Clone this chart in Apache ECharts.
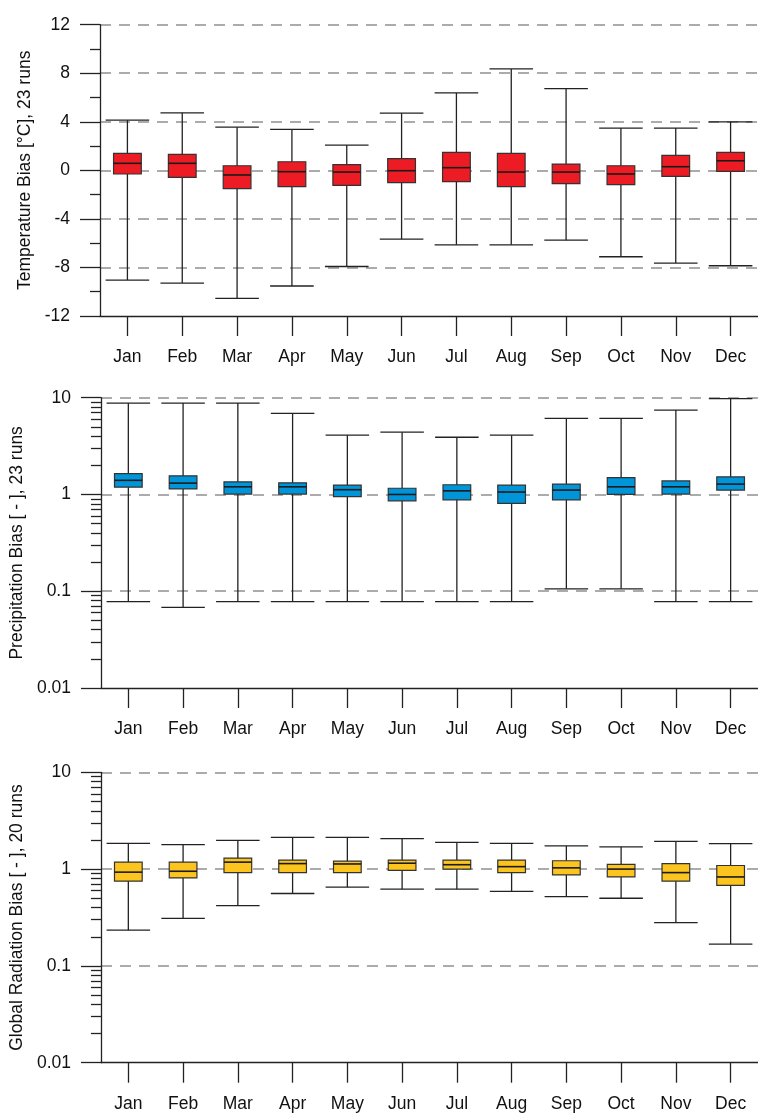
<!DOCTYPE html>
<html>
<head>
<meta charset="utf-8">
<script src="https://cdn.jsdelivr.net/npm/echarts@6/dist/echarts.min.js"></script>
<style>
html,body{margin:0;padding:0;background:#fff;}
#chart{width:758px;height:1113px;}
</style>
</head>
<body>
<div id="chart"></div>
<script>
const months = ['Jan','Feb','Mar','Apr','May','Jun','Jul','Aug','Sep','Oct','Nov','Dec'];

// Temperature bias [°C]
const tempHigh = [4.14,4.74,3.56,3.37,2.08,4.71,6.38,8.36,6.74,3.48,3.48,4.0];
const tempQ3   = [1.40,1.32,0.38,0.71,0.47,0.96,1.48,1.40,0.52,0.38,1.23,1.48];
const tempMed  = [0.58,0.58,-0.38,-0.11,-0.14,-0.03,0.22,-0.14,-0.14,-0.30,0.30,0.79];
const tempQ1   = [-0.30,-0.58,-1.51,-1.34,-1.23,-1.01,-0.93,-1.34,-1.10,-1.18,-0.49,-0.08];
const tempLow  = [-9.04,-9.29,-10.55,-9.53,-7.92,-5.67,-6.14,-6.14,-5.75,-7.12,-7.64,-7.86];

// Precipitation bias [-]
const precHigh = [8.8,8.8,8.8,6.9,4.1,4.4,3.9,4.1,6.1,6.1,7.45,9.8];
const precQ3   = [1.64,1.56,1.35,1.32,1.25,1.16,1.26,1.25,1.28,1.49,1.38,1.52];
const precMed  = [1.40,1.31,1.20,1.20,1.12,1.00,1.09,1.06,1.11,1.20,1.20,1.28];
const precQ1   = [1.19,1.14,1.01,1.01,0.95,0.86,0.88,0.81,0.88,1.00,1.01,1.11];
const precLow  = [0.078,0.068,0.078,0.078,0.078,0.078,0.078,0.078,0.106,0.106,0.078,0.078];

// Global radiation bias [-]
const radHigh = [1.84,1.79,1.98,2.13,2.13,2.06,1.89,1.84,1.74,1.70,1.93,1.83];
const radQ3   = [1.18,1.18,1.30,1.24,1.21,1.24,1.24,1.24,1.22,1.12,1.14,1.09];
const radMed  = [0.93,0.95,1.18,1.14,1.13,1.15,1.11,1.06,1.03,1.00,0.92,0.83];
const radQ1   = [0.75,0.81,0.92,0.92,0.92,0.97,1.00,0.92,0.87,0.83,0.75,0.68];
const radLow  = [0.234,0.31,0.42,0.56,0.65,0.62,0.62,0.59,0.52,0.50,0.28,0.168];

// Axis tick labels / tick values
const tempTicks = [-12,-8,-4,0,4,8,12];
const logTicks = [0.01,0.1,1,10];
const logMinorTicks = [0.02,0.03,0.04,0.05,0.06,0.07,0.08,0.09,0.2,0.3,0.4,0.5,0.6,0.7,0.8,0.9,2,3,4,5,6,7,8,9];

const FONT = 'Liberation Sans, Arial, sans-serif';
const FS = 17.5;
const LINE = '#222';
const GRIDC = '#ababab';

function buildRows(low, q1, med, q3, high) {
  return months.map((m, i) => [i, low[i], q1[i], med[i], q3[i], high[i]]);
}

function renderBox(color) {
  return function (params, api) {
    const i = api.value(0);
    const band = api.size([1, 0])[0];
    const bw = band * 0.506, cw = band * 0.795;
    const pLow = api.coord([i, api.value(1)]);
    const pQ1 = api.coord([i, api.value(2)]);
    const pMed = api.coord([i, api.value(3)]);
    const pQ3 = api.coord([i, api.value(4)]);
    const pHigh = api.coord([i, api.value(5)]);
    const x = pMed[0];
    const ls = {stroke: LINE, lineWidth: 1.3};
    return {
      type: 'group',
      children: [
        {type: 'line', shape: {x1: x, y1: pLow[1], x2: x, y2: pHigh[1]}, style: ls},
        {type: 'line', shape: {x1: x - cw/2, y1: pHigh[1], x2: x + cw/2, y2: pHigh[1]}, style: ls},
        {type: 'line', shape: {x1: x - cw/2, y1: pLow[1], x2: x + cw/2, y2: pLow[1]}, style: ls},
        {type: 'rect', shape: {x: x - bw/2, y: pQ3[1], width: bw, height: pQ1[1] - pQ3[1]},
          style: {fill: color, stroke: '#333', lineWidth: 1.2}},
        {type: 'line', shape: {x1: x - bw/2, y1: pMed[1], x2: x + bw/2, y2: pMed[1]},
          style: {stroke: '#1a1a1a', lineWidth: 1.6}}
      ]
    };
  };
}

const grids = [
  {left: 100, width: 664, top: 24.7, height: 291.3},
  {left: 100, width: 664, top: 397.7, height: 290.3},
  {left: 100, width: 664, top: 772.3, height: 290.4}
];

const xAxes = grids.map((g, k) => ({
  type: 'category', gridIndex: k, data: months, boundaryGap: true, position: 'bottom',
  axisLine: {show: true, onZero: false, lineStyle: {color: LINE, width: 1.3}},
  axisTick: {show: true, alignWithLabel: true, length: 20, lineStyle: {color: LINE, width: 1.3}},
  axisLabel: {color: '#111', fontSize: FS, fontFamily: FONT, margin: 32},
  splitLine: {show: false},
  z: 10
}));

const splitStyle = {show: true, showMinLine: false, showMaxLine: true,
  lineStyle: {color: GRIDC, width: 2, type: [11, 8]}};
const nameStyle = {color: '#111', fontSize: FS, fontFamily: FONT};
const yLabel = {color: '#111', fontSize: FS, fontFamily: FONT, margin: 30};

const yAxes = [
  {
    type: 'value', gridIndex: 0, position: 'left', min: -12, max: 12, interval: 4,
    name: 'Temperature Bias [°C], 23 runs', nameLocation: 'middle', nameRotate: 90, nameGap: 60,
    nameTextStyle: nameStyle,
    axisLine: {show: true, onZero: false, lineStyle: {color: LINE, width: 1.3}},
    axisTick: {show: true, length: 20, lineStyle: {color: LINE, width: 1.3}},
    minorTick: {show: true, splitNumber: 2, length: 10, lineStyle: {color: LINE, width: 1.3}},
    axisLabel: Object.assign({customValues: tempTicks}, yLabel),
    splitLine: splitStyle
  },
  {
    type: 'log', logBase: 10, gridIndex: 1, position: 'left', min: 0.01, max: 10,
    name: 'Precipitation Bias [ - ], 23 runs', nameLocation: 'middle', nameRotate: 90, nameGap: 68,
    nameTextStyle: nameStyle,
    axisLine: {show: true, onZero: false, lineStyle: {color: LINE, width: 1.3}},
    axisTick: {show: true, length: 20, lineStyle: {color: LINE, width: 1.3}},
    axisLabel: Object.assign({formatter: v => String(+v.toPrecision(3))}, yLabel),
    splitLine: splitStyle
  },
  {
    type: 'log', logBase: 10, gridIndex: 2, position: 'left', min: 0.01, max: 10,
    name: 'Global Radiation Bias [ - ], 20 runs', nameLocation: 'middle', nameRotate: 90, nameGap: 68,
    nameTextStyle: nameStyle,
    axisLine: {show: true, onZero: false, lineStyle: {color: LINE, width: 1.3}},
    axisTick: {show: true, length: 20, lineStyle: {color: LINE, width: 1.3}},
    axisLabel: Object.assign({formatter: v => String(+v.toPrecision(3))}, yLabel),
    splitLine: splitStyle
  },
  // minor tick axes for log panels
  {
    type: 'log', logBase: 10, gridIndex: 1, position: 'left', min: 0.01, max: 10,
    axisLine: {show: false, onZero: false},
    axisTick: {show: true, length: 10, customValues: logMinorTicks, lineStyle: {color: LINE, width: 1.3}},
    axisLabel: {show: false}, splitLine: {show: false}
  },
  {
    type: 'log', logBase: 10, gridIndex: 2, position: 'left', min: 0.01, max: 10,
    axisLine: {show: false, onZero: false},
    axisTick: {show: true, length: 10, customValues: logMinorTicks, lineStyle: {color: LINE, width: 1.3}},
    axisLabel: {show: false}, splitLine: {show: false}
  }
];

const panels = [
  {rows: buildRows(tempLow, tempQ1, tempMed, tempQ3, tempHigh), color: '#ED1C24'},
  {rows: buildRows(precLow, precQ1, precMed, precQ3, precHigh), color: '#0095D8'},
  {rows: buildRows(radLow, radQ1, radMed, radQ3, radHigh), color: '#FBC41E'}
];

const series = panels.map((p, k) => ({
  type: 'custom', xAxisIndex: k, yAxisIndex: k,
  renderItem: renderBox(p.color),
  encode: {x: 0, y: [1, 2, 3, 4, 5]},
  data: p.rows, clip: false, silent: true, z: 5
}));

const chart = echarts.init(document.getElementById('chart'), null, {renderer: 'canvas'});
chart.setOption({
  animation: false,
  backgroundColor: '#fff',
  grid: grids,
  xAxis: xAxes,
  yAxis: yAxes,
  series: series
});
</script>
</body>
</html>
